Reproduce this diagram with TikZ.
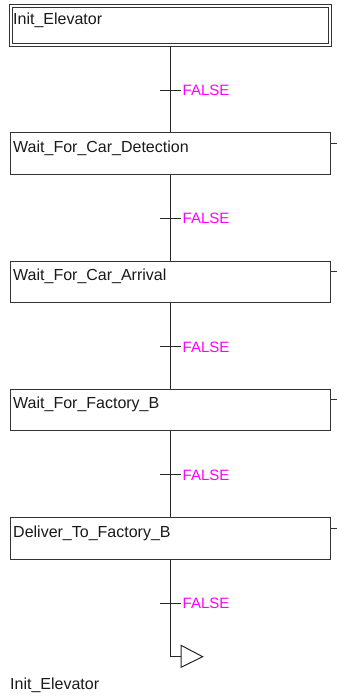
\documentclass[tikz,border=0pt]{standalone}
\usepackage{fontspec}
\setmainfont{Liberation Sans}
\usetikzlibrary{calc}
\definecolor{condpink}{RGB}{255,0,255}
\begin{document}
\begin{tikzpicture}[x=1pt,y=-1pt,
  border/.style={draw=black!80,line width=1pt},
  stepbox/.style={border,rectangle,inner sep=0pt,minimum width=320.5pt,minimum height=41.5pt,anchor=north west},
  initbox/.style={draw=black!80,line width=1pt,double=white,double distance=2pt,rectangle,inner sep=0pt,
    minimum width=319pt,minimum height=39pt,anchor=north west},
  steptext/.style={inner sep=0pt,anchor=base west,font=\fontsize{16}{18}\selectfont,text=black!90},
  condtext/.style={inner sep=0pt,anchor=west,font=\fontsize{15}{18}\selectfont,text=condpink},
  wire/.style={draw=black!85,line width=1pt}]
\useasboundingbox (0,0) rectangle (337,696);

% steps
\node[initbox] (s0) at (10.5,5.5) {};
\node[stepbox] (s1) at (9.5,132.3) {};
\node[stepbox] (s2) at (9.5,260.6) {};
\node[stepbox] (s3) at (9.5,388.9) {};
\node[stepbox] (s4) at (9.5,517.2) {};

\node[steptext] (l0) at (13,24) {Init\_Elevator};
\foreach \s/\txt in {s1/Wait\_For\_Car\_Detection,s2/Wait\_For\_Car\_Arrival,s3/Wait\_For\_Factory\_B,s4/Deliver\_To\_Factory\_B}
  \node[steptext] (l\s) at ($(\s.north west)+(3.5,20)$) {\txt};

% action stubs on the right
\foreach \s in {s1,s2,s3,s4}
  \draw[border] ($(\s.north east)+(0,11)$) -- ++(8,0);

% transitions
\foreach \i/\y in {0/90,1/218.3,2/346.6,3/474.9,4/603.2}
  \coordinate (t\i) at (170.5,\y);

\coordinate (j) at (170.5,656.7);
\coordinate (jt) at (181,656.7);

\draw[wire] (s0.south -| t0) -- (s1.north -| t0);
\draw[wire] (s1.south -| t1) -- (s2.north -| t1);
\draw[wire] (s2.south -| t2) -- (s3.north -| t2);
\draw[wire] (s3.south -| t3) -- (s4.north -| t3);
\draw[wire] (s4.south -| t4) -- (j) -- (jt);

\foreach \i in {0,...,4}{
  \draw[wire] ($(t\i)+(-11,0)$) -- ($(t\i)+(10,0)$);
  \node[condtext] (c\i) at ($(t\i)+(12,0.5)$) {FALSE};
}

% jump to initial step
\draw[wire,line join=miter] (181,645.3) -- (202.7,656.7) -- (181,667.3) -- cycle;
\node[steptext] (jl) at (10,689) {Init\_Elevator};
\end{tikzpicture}
\end{document}
